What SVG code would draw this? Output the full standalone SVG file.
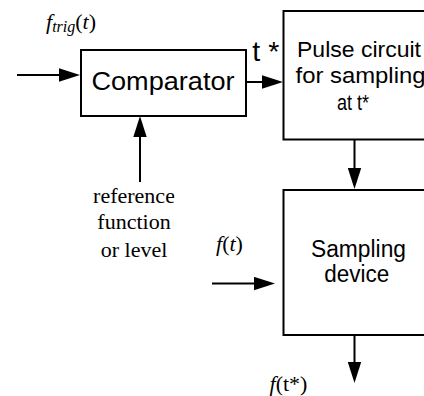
<svg xmlns="http://www.w3.org/2000/svg" width="424" height="396" viewBox="0 0 424 396">
<defs>
<style>
.box{fill:#fff;stroke:#000;stroke-width:2}
.lbl{font-family:"Liberation Sans",Arial,sans-serif;fill:#000}
.math{font-family:"Liberation Serif","Times New Roman",serif;fill:#000;font-size:22px}
.it{font-style:italic}
.wire{stroke:#000;stroke-width:2;fill:none;marker-end:url(#ah)}
</style>
<marker id="ah" viewBox="-12 -7 22 14" refX="0" refY="0" markerWidth="22" markerHeight="14" markerUnits="userSpaceOnUse" orient="auto">
<path d="M-11,-6.7 L10,0 L-11,6.7 Z" fill="#000"/>
</marker>
<clipPath id="refclip"><rect x="0" y="180" width="174.5" height="90"/></clipPath>
</defs>
<rect width="424" height="396" fill="#fff"/>
<g id="connectors">
<line class="wire" x1="17" y1="75" x2="70" y2="75"/>
<line class="wire" x1="140" y1="182" x2="140" y2="126"/>
<line class="wire" x1="246" y1="82" x2="273" y2="82"/>
<line class="wire" x1="354.5" y1="140" x2="354.5" y2="179"/>
<line class="wire" x1="212" y1="283.5" x2="265" y2="283.5"/>
<line class="wire" x1="354.5" y1="335" x2="354.5" y2="373"/>
</g>
<g id="comparator">
<rect class="box" x="81" y="50" width="165" height="66"/>
<text class="lbl" x="163" y="90" font-size="26" text-anchor="middle" textLength="143" lengthAdjust="spacingAndGlyphs">Comparator</text>
</g>
<g id="pulse">
<rect class="box" x="283.5" y="11" width="145" height="128.5"/>
<text class="lbl" x="297" y="57" font-size="22.5" textLength="124" lengthAdjust="spacingAndGlyphs">Pulse circuit</text>
<text class="lbl" x="295.5" y="83" font-size="22.5" textLength="130" lengthAdjust="spacingAndGlyphs">for sampling</text>
<text class="lbl" x="337" y="109.5" font-size="22.5" textLength="32" lengthAdjust="spacingAndGlyphs">at t*</text>
</g>
<g id="sampler">
<rect class="box" x="283.5" y="190" width="145" height="145"/>
<text class="lbl" x="311" y="257" font-size="23" textLength="95" lengthAdjust="spacingAndGlyphs">Sampling</text>
<text class="lbl" x="324.3" y="282" font-size="23" textLength="65" lengthAdjust="spacingAndGlyphs">device</text>
</g>
<g id="labels">
<text class="lbl" x="252.3" y="61" font-size="28" textLength="27" lengthAdjust="spacingAndGlyphs">t *</text>
<text class="math" x="46" y="28.5" font-size="21"><tspan class="it">f</tspan><tspan class="it" font-size="16" dy="3">trig</tspan><tspan dy="-3">(</tspan><tspan class="it">t</tspan>)</text>
<g clip-path="url(#refclip)">
<text class="math" x="134" y="203.3" text-anchor="middle">reference</text>
<text class="math" x="134" y="229.3" text-anchor="middle">function</text>
<text class="math" x="134" y="256.8" text-anchor="middle">or level</text>
</g>
<text class="math" x="216" y="251"><tspan class="it">f</tspan>(<tspan class="it">t</tspan>)</text>
<text class="math" x="269.5" y="391"><tspan class="it">f</tspan>(t*)</text>
</g>
</svg>
